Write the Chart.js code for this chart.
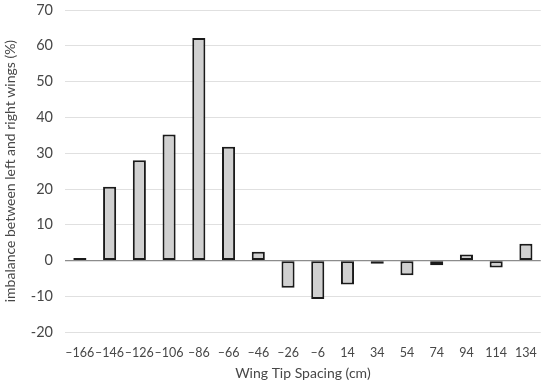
<!DOCTYPE html>
<html>
<head>
<meta charset="utf-8">
<script src="https://cdn.jsdelivr.net/npm/chart.js@4/dist/chart.umd.min.js"></script>
<style>
    html, body { margin: 0; padding: 0; background: #fff; }
    #wrap { width: 550px; height: 382px; }
</style>
</head>
<body>
<div id="wrap"><canvas id="chart" width="550" height="382"></canvas></div>
<script>
const spacings = ['–166', '–146', '–126', '–106', '–86', '–66', '–46', '–26', '–6', '14', '34', '54', '74', '94', '114', '134'];
const imbalance = [0.7, 20.6, 28.0, 35.2, 62.2, 31.8, 2.5, -7.6, -10.7, -6.7, -0.9, -4.1, -1.3, 1.7, -1.9, 4.7];

const fontFamily = "Lato, 'Open Sans', sans-serif";
const textColor = '#474747';

new Chart(document.getElementById('chart'), {
    type: 'bar',
    data: {
        labels: spacings,
        datasets: [{
            data: imbalance,
            backgroundColor: '#d0d0d0',
            borderColor: '#1a1a1a',
            borderWidth: 2,
            borderSkipped: false,
            barPercentage: 0.44,
            categoryPercentage: 1.0
        }]
    },
    options: {
        responsive: false,
        animation: false,
        layout: { padding: { top: 10, right: 7, left: 2, bottom: 0 } },
        plugins: {
            legend: { display: false },
            tooltip: { enabled: false }
        },
        scales: {
            x: {
                // trim extra space chart.js reserves under the labels
                afterFit: (scale) => {
                    scale.height -= 11;
                },
                grid: { display: false, drawTicks: false },
                border: { display: false },
                ticks: {
                    color: textColor,
                    font: { family: fontFamily, size: 12.5 },
                    maxRotation: 0,
                    autoSkip: false,
                    padding: 13
                },
                title: {
                    display: true,
                    text: 'Wing Tip Spacing (cm)',
                    color: textColor,
                    font: { family: fontFamily, size: 14 },
                    padding: { top: 3, bottom: 0 }
                }
            },
            y: {
                min: -20,
                max: 70,
                // keep the tick padding horizontal only
                afterFit: (scale) => {
                    scale.paddingTop = 0;
                    scale.paddingBottom = 0;
                },
                grid: {
                    drawTicks: false,
                    color: (ctx) => ctx.tick && ctx.tick.value === 0 ? '#8c8c8c' : '#e0e0e0',
                    lineWidth: (ctx) => ctx.tick && ctx.tick.value === 0 ? 1.2 : 1
                },
                border: { display: false },
                ticks: {
                    stepSize: 10,
                    color: textColor,
                    font: { family: fontFamily, size: 14.5 },
                    padding: 12
                },
                title: {
                    display: true,
                    text: 'imbalance between left and right wings (%)',
                    color: textColor,
                    font: { family: fontFamily, size: 14 },
                    padding: { top: 0, bottom: 0 }
                }
            }
        }
    }
});
</script>
</body>
</html>
